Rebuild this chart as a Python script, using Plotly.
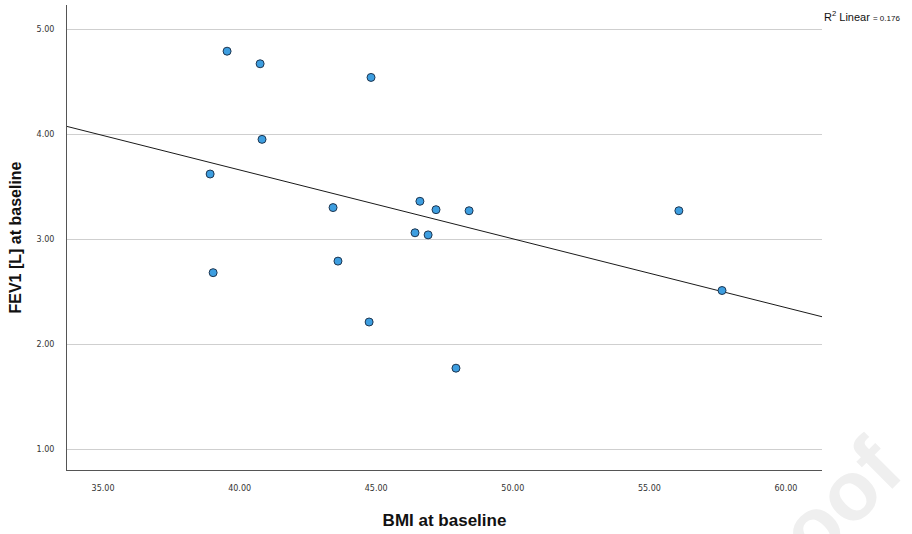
import numpy as np
import plotly.graph_objects as go

# Data
bmi = [39.54, 40.75, 44.81, 40.82, 38.92, 39.03, 43.42, 43.60, 44.74,
       46.60, 46.42, 46.90, 47.19, 48.40, 47.92, 56.08, 57.66]
fev1 = [4.79, 4.67, 4.54, 3.95, 3.62, 2.68, 3.30, 2.79, 2.21,
        3.36, 3.06, 3.04, 3.28, 3.27, 1.77, 3.27, 2.51]
x_ticks = [35, 40, 45, 50, 55, 60]
y_ticks = [1, 2, 3, 4, 5]
r2_label = "0.176"

x_range = [33.68, 61.32]
y_range = [0.80, 5.23]

slope, intercept = np.polyfit(bmi, fev1, 1)
fit_x = np.array(x_range)
fit_y = slope * fit_x + intercept

fig = go.Figure()
fig.add_trace(go.Scatter(
    x=fit_x, y=fit_y, mode="lines",
    line=dict(color="#1a1a1a", width=1), hoverinfo="skip", showlegend=False))
fig.add_trace(go.Scatter(
    x=bmi, y=fev1, mode="markers",
    marker=dict(size=8, color="#3d9ee0", line=dict(color="#1d3550", width=1)),
    showlegend=False))

tick_font = dict(family="DejaVu Sans", size=8, color="#333333")
fig.update_xaxes(
    range=x_range, tickvals=x_ticks, ticktext=[f"{v:.2f}" for v in x_ticks],
    showgrid=False, zeroline=False, showline=True, linecolor="#555555", linewidth=1,
    ticks="", ticklen=0, tickfont=tick_font, ticklabelstandoff=10,
    title=dict(text="<b>BMI at baseline</b>", font=dict(family="Liberation Sans", size=17, color="#111111"), standoff=22))
fig.update_yaxes(
    range=y_range, tickvals=y_ticks, ticktext=[f"{v:.2f}" for v in y_ticks],
    showgrid=True, gridcolor="#cfcfcf", gridwidth=1, zeroline=False,
    showline=True, linecolor="#555555", linewidth=1,
    ticks="", ticklen=0, tickfont=tick_font, ticklabelstandoff=10,
    title=dict(text="<b>FEV1 [L] at baseline</b>", font=dict(family="Liberation Sans", size=16, color="#111111"), standoff=10))

fig.add_annotation(
    xref="paper", yref="paper", x=1.0, y=1.0, xanchor="left", yanchor="bottom",
    xshift=0, yshift=-20,
    text=f"R<sup>2</sup> Linear <span style='font-size:8px'>= {r2_label}</span>",
    showarrow=False, font=dict(family="Liberation Sans", size=11, color="#111111"))

fig.add_annotation(
    xref="paper", yref="paper", x=1.134, y=-0.377, text="<b>Proof</b>", textangle=-45,
    showarrow=False, font=dict(family="Liberation Sans", size=84, color="#efefef"))

fig.update_layout(
    width=912, height=534,
    margin=dict(l=67, r=90, t=5, b=64),
    paper_bgcolor="white", plot_bgcolor="white",
    hovermode=False)

fig.write_html("out.html")
